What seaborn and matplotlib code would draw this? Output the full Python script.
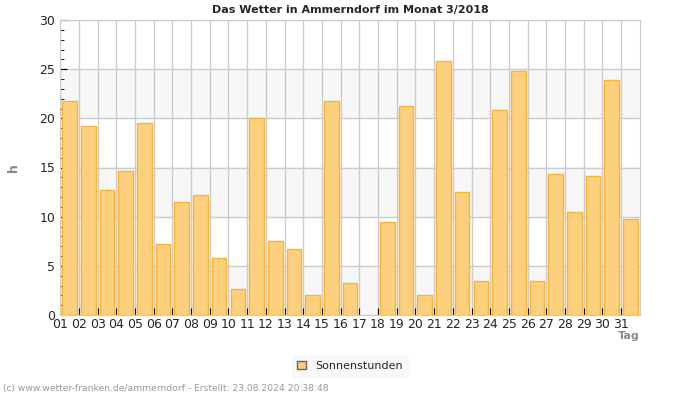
import numpy as np
import pandas as pd
import matplotlib.pyplot as plt
import seaborn as sns
from matplotlib.patches import Patch
#
# Daily sunshine hours, March 2018
tage = ['%02d' % d for d in range(1, 32)]
sonnenstunden = [21.8, 19.2, 12.7, 14.6, 19.5, 7.2, 11.5, 12.2, 5.8, 2.6,
                 20.0, 7.5, 6.7, 2.0, 21.8, 3.3, 0.0, 9.5, 21.3, 2.0,
                 25.8, 12.5, 3.5, 20.8, 24.8, 3.5, 14.3, 10.5, 14.1, 23.9,
                 9.8]
df = pd.DataFrame({'Tag': tage, 'Sonnenstunden': sonnenstunden})
#
sns.set_style('white', {'xtick.bottom': True, 'ytick.left': True})
plt.rcParams['font.family'] = ['DejaVu Sans']
#
fig, ax = plt.subplots(figsize=(7, 4), dpi=100)
fig.subplots_adjust(left=0.086, right=0.914, top=0.95, bottom=0.2125)
#
# alternating light bands
for lo in (0, 10, 20):
    ax.axhspan(lo, lo + 5, color='#f7f7f7', zorder=0)
#
sns.barplot(data=df, x='Tag', y='Sonnenstunden', order=tage, color='#fdd07e',
            edgecolor='#f8b535', linewidth=1, width=0.78, saturation=1, ax=ax, zorder=3)
# a day without sun shows no bar at all
for p in ax.patches:
    if p.get_height() == 0:
        p.set_visible(False)
#
ax.set_xlim(-0.5, 30.5)
ax.set_ylim(0, 30)
ax.set_xticks(np.arange(31) - 0.5)
ax.set_xticklabels(tage, fontsize=9)
ax.set_yticks(range(0, 31, 5))
ax.set_yticks(range(0, 31), minor=True)
ax.tick_params(axis='y', which='major', labelsize=9, direction='in', length=5,
               color='black', left=True)
ax.tick_params(axis='y', which='minor', direction='in', length=3, color='black', left=True)
ax.tick_params(axis='x', direction='in', length=5, color='black', pad=2, bottom=True)
ax.grid(True, which='major', color='#cccccc', linewidth=1, zorder=1)
ax.set_axisbelow(True)
for s in ax.spines.values():
    s.set_color('#cccccc')
    s.set_visible(True)
#
ax.set_xlabel('')
ax.set_ylabel('h', color='#888888', fontweight='bold', fontsize=9, labelpad=14)
ax.text(1.0, -0.055, 'Tag', transform=ax.transAxes, ha='right', va='top',
        color='#888888', fontweight='bold', fontsize=8)
ax.set_title('Das Wetter in Ammerndorf im Monat 3/2018', fontsize=8, fontweight='bold', pad=5)
#
leg = fig.legend(handles=[Patch(facecolor='#fdd07e', edgecolor='#666666', label='Sonnenstunden')],
                 loc='center', bbox_to_anchor=(0.5, 0.085), frameon=True, fontsize=8,
                 handlelength=0.8, handleheight=0.8, borderpad=0.5)
leg.get_frame().set_facecolor('#f7f7f7')
leg.get_frame().set_edgecolor('#f7f7f7')
#
fig.text(0.004, 0.017, '(c) www.wetter-franken.de/ammerndorf - Erstellt: 23.08.2024 20:38:48',
         color='#999999', fontsize=6.6, ha='left', va='bottom')
#
fig.savefig('out.png', dpi=100)
